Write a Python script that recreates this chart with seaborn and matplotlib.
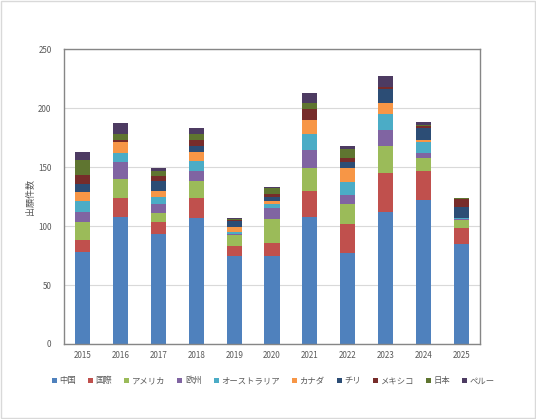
import numpy as np
import pandas as pd
import matplotlib
matplotlib.use('Agg')
import matplotlib.pyplot as plt
from matplotlib.patches import Patch, Rectangle
import seaborn as sns

# datos (incrementos por serie)
years = ['2015', '2016', '2017', '2018', '2019', '2020', '2021', '2022', '2023', '2024', '2025']
series = ['中国', '国際', 'アメリカ', '欧州', 'オーストラリア', 'カナダ', 'チリ', 'メキシコ', '日本', 'ペルー']
china     = [78, 108, 93, 107, 75, 75, 108, 77, 112, 122, 85]
intl      = [10, 16, 10, 17, 8, 11, 22, 25, 33, 25, 13]
america   = [15, 16, 8, 14, 9, 20, 19, 17, 23, 11, 7]
europe    = [9, 14, 8, 9, 1, 9, 15, 7, 13, 4, 1]
australia = [9, 8, 6, 8, 2, 4, 14, 11, 14, 9, 1]
canada    = [8, 9, 5, 8, 4, 2, 12, 12, 9, 2, 0]
chile     = [7, 0, 8, 5, 5, 4, 0, 5, 12, 10, 9]
mexico    = [7, 2, 4, 5, 1, 2, 9, 4, 2, 2, 7]
japan     = [13, 5, 5, 5, 1, 5, 5, 7, 0, 1, 1]
peru      = [7, 9, 2, 5, 1, 1, 9, 3, 9, 2, 0]
colors = ['#4F81BD', '#C0504D', '#9BBB59', '#8064A2', '#4BACC6',
          '#F79646', '#2C4D75', '#772C2A', '#5F7530', '#4D3B62']

df = pd.DataFrame([china, intl, america, europe, australia, canada, chile, mexico, japan, peru],
                  index=series, columns=years).T
cum = df.cumsum(axis=1)

sns.set_style('white')
plt.rcParams['font.family'] = ['Noto Sans CJK JP', 'DejaVu Sans']

fig = plt.figure(figsize=(5.36, 4.19), dpi=100)
ax = fig.add_axes([0.1194, 0.179, 0.7761, 0.704])

# barras apiladas: se dibuja el acumulado de arriba hacia abajo
for name, col in reversed(list(zip(series, colors))):
    sns.barplot(x=years, y=cum[name].values, color=col, width=0.4,
                saturation=1, linewidth=0, edgecolor='none', ax=ax, zorder=2)

ax.set_ylim(0, 250)
ax.set_yticks(range(0, 251, 50))
ax.set_xlim(-0.5, len(years) - 0.5)
ax.yaxis.grid(True, color='#D9D9D9', linewidth=0.8, zorder=0)
ax.set_axisbelow(True)
for s in ax.spines.values():
    s.set_color('#868686')
    s.set_linewidth(1)
ax.tick_params(axis='both', length=0, labelsize=5.8, labelcolor='#595959')
ax.tick_params(axis='y', pad=9)
ax.tick_params(axis='x', pad=5)
ax.set_xlabel('')
ax.set_ylabel('出願件数', fontsize=6.5, color='#595959')
ax.yaxis.set_label_coords(-0.07, 0.5)

handles = [Patch(facecolor=c, edgecolor='none') for c in colors]
fig.legend(handles, series, loc='center', bbox_to_anchor=(0.51, 0.091), ncol=10,
           frameon=False, fontsize=6, handlelength=0.6, handleheight=0.6,
           handletextpad=0.3, columnspacing=1.45, labelcolor='#595959')

# borde exterior del area del grafico
fig.patches.append(Rectangle((0.002, 0.002), 0.996, 0.996, transform=fig.transFigure,
                             fill=False, edgecolor='#D9D9D9', linewidth=1))

plt.savefig('out.png', dpi=100)
